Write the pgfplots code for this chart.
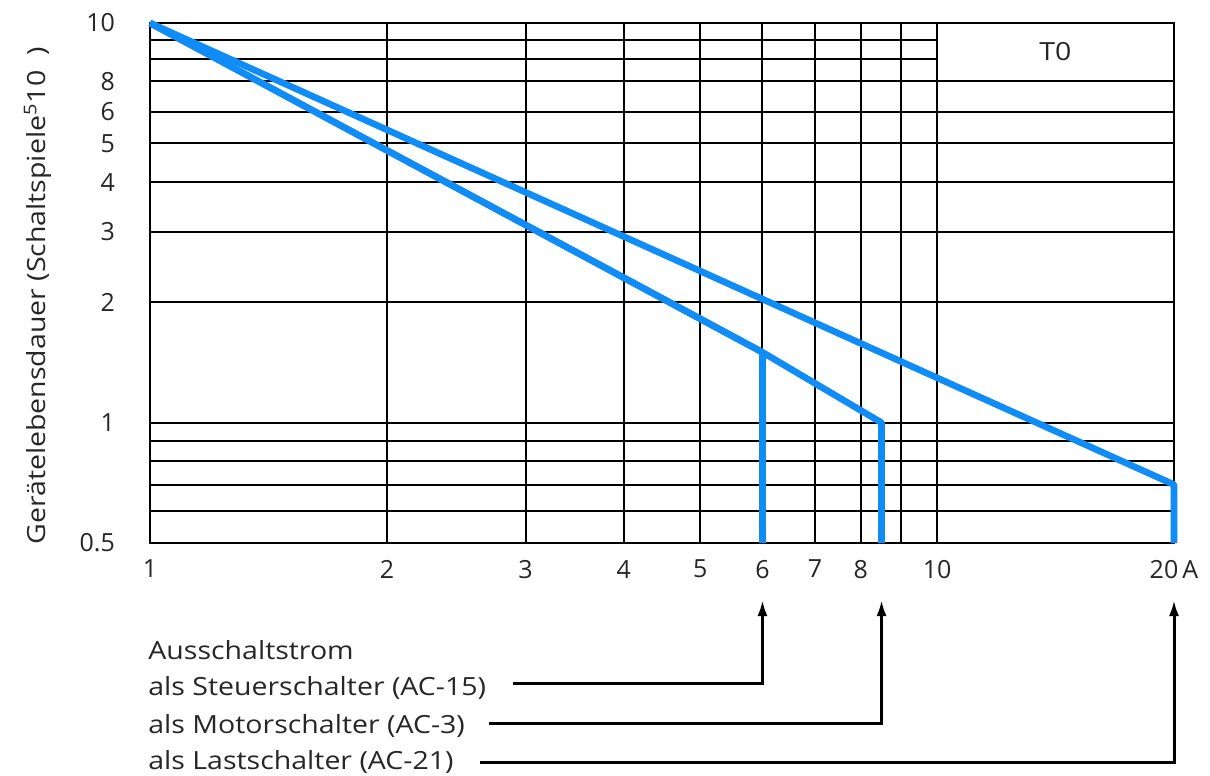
\documentclass[border=0pt]{standalone}
\usepackage{pgfplots}
\pgfplotsset{compat=1.18}
\usepackage{fontspec}
\setmainfont{Open Sans}
\newfontfamily\widefont{Open Sans}[FakeStretch=1.14]
\usetikzlibrary{arrows.meta}
\definecolor{curve}{RGB}{15,140,245}
\begin{document}
\begin{tikzpicture}
\useasboundingbox (-75pt,-116.5pt) rectangle (530pt,271.5pt);
\begin{axis}[
  at={(0,0)}, anchor=south west,
  scale only axis, width=512pt, height=260pt,
  xmode=log, ymode=log,
  xmin=1, xmax=20, ymin=0.5, ymax=10,
  xtick={1,2,3,4,5,6,7,8,9,10,20},
  xticklabels={1,2,3,4,5,6,7,8,,10,20\,A},
  ytick={0.5,0.6,0.7,0.8,0.9,1,2,3,4,5,6,7.15,10},
  yticklabels={0.5,,,,,1,2,3,4,5,6,8,10},
  minor xtick={}, minor ytick={},
  xmajorgrids, ymajorgrids,
  grid style={black, line width=1pt},
  axis line style={black, line width=1pt},
  major tick length=0pt,
  tick label style={font=\fontsize{12.5}{14}\selectfont, text=black!85},
  xticklabel style={yshift=-5pt},
  yticklabel style={xshift=-14pt},
  clip=false,
]
\draw[black, line width=1pt] (axis cs:1,9.05) -- (axis cs:10,9.05);
\draw[black, line width=1pt] (axis cs:1,8.14) -- (axis cs:10,8.14);
\addplot[curve, line width=3.3pt, line join=round] coordinates {(1,10) (20,0.7) (20,0.5)};
\addplot[curve, line width=3.3pt, line join=round] coordinates {(1,10) (6,1.5) (8.5,1.0) (8.5,0.5)};
\addplot[curve, line width=3.3pt, line join=round] coordinates {(1,10) (6,1.5) (6,0.5)};
\node[font=\widefont\fontsize{12.5}{14}\selectfont, text=black!85] at (axis cs:14.14,8.46) {T0};
\coordinate (p6) at (axis cs:6,0.5);
\coordinate (p85) at (axis cs:8.5,0.5);
\coordinate (p20) at (axis cs:20,0.5);
\end{axis}
\begin{scope}[font=\widefont\fontsize{12.5}{14}\selectfont, text=black!85]
\node[rotate=90, anchor=base west, inner sep=0pt] at (-52.5pt,-1pt) {Gerätelebensdauer (Schaltspiele\textsuperscript{5}10\hspace{0.6em})};
\node[anchor=base west, inner sep=0pt] at (-1pt,-58pt) {Ausschaltstrom};
\node[anchor=base west, inner sep=0pt] at (-1pt,-76pt) {als Steuerschalter (AC-15)};
\node[anchor=base west, inner sep=0pt] at (-1pt,-95pt) {als Motorschalter (AC-3)};
\node[anchor=base west, inner sep=0pt] at (-1pt,-113pt) {als Lastschalter (AC-21)};
\end{scope}
\draw[line width=1.5pt, -{Latex[length=8pt,width=5pt]}] (181.5pt,-70pt) -| ([yshift=-28.5pt]p6);
\draw[line width=1.5pt, -{Latex[length=8pt,width=5pt]}] (169.5pt,-90pt) -| ([yshift=-28.5pt]p85);
\draw[line width=1.5pt, -{Latex[length=8pt,width=5pt]}] (165pt,-109.5pt) -| ([yshift=-28.5pt]p20);
\end{tikzpicture}
\end{document}
